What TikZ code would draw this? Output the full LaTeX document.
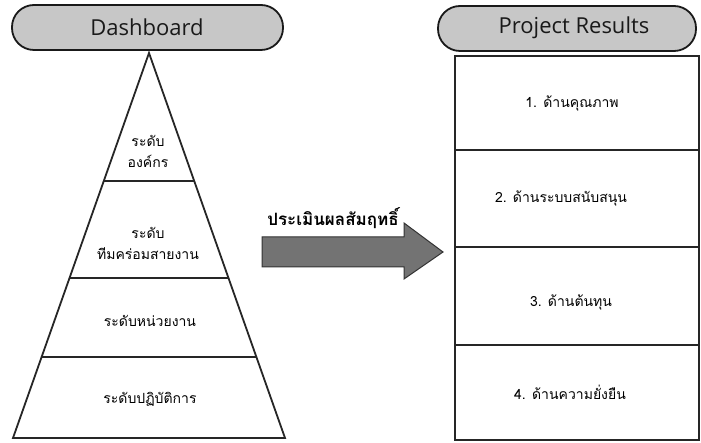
\documentclass[tikz,border=0pt]{standalone}
\usepackage{fontspec}
\setmainfont{Open Sans}
\newfontfamily\thaifont[Script=Thai]{Loma}
\usetikzlibrary{calc}
\begin{document}
\begin{tikzpicture}[x=1pt,y=-1pt,
  pill/.style={draw=black!90,line width=1.8pt,fill=black!22,rounded corners=22pt},
  head/.style={font=\fontsize{22}{24}\selectfont,text=black!90},
  thai/.style={font=\thaifont\fontsize{14}{21}\selectfont,align=center,text=black},
  frame/.style={draw=black!85,line width=1.8pt},
  cell/.style={draw=black!85,line width=1.3pt}]
\useasboundingbox[fill=white] (0,0) rectangle (701,443);
% headers
\draw[pill] (12,5) rectangle (283,50);
\node[head] (dash) at (147,27) {Dashboard};
\draw[pill] (438,6) rectangle (696,51);
\node[head] (proj) at (574,28) {Project Results};
% pyramid
\coordinate (apex) at (149,53);
\coordinate (bl) at (13,438);
\coordinate (br) at (285,438);
\draw[frame,line join=miter] (apex) -- (bl) -- (br) -- cycle;
\draw[frame] ($(apex)!0.3325!(bl)$) -- ($(apex)!0.3325!(br)$);
\draw[frame] ($(apex)!0.5844!(bl)$) -- ($(apex)!0.5844!(br)$);
\draw[frame] ($(apex)!0.7896!(bl)$) -- ($(apex)!0.7896!(br)$);
\node[thai] (l1) at (148,151) {ระดับ\\องค์กร};
\node[thai] (l2) at (148,243) {ระดับ\\ทีมคร่อมสายงาน};
\node[thai] (l3) at (150,321) {ระดับหน่วยงาน};
\node[thai] (l4) at (150,399) {ระดับปฏิบัติการ};
% arrow
\node[thai,font=\thaifont\bfseries\fontsize{17}{19}\selectfont] (eval) at (333,218) {ประเมินผลสัมฤทธิ์};
\coordinate (a1) at (262,237);
\coordinate (a2) at (404,237);
\coordinate (a3) at (404,223);
\coordinate (tip) at (443,252);
\coordinate (a5) at (404,279);
\coordinate (a6) at (404,267);
\coordinate (a7) at (262,267);
\filldraw[fill=black!55,draw=black!80,line width=1pt,line join=miter] (a1) -- (a2) -- (a3) -- (tip) -- (a5) -- (a6) -- (a7) -- cycle;
% result boxes
\draw[cell] (455,56) rectangle (699,440);
\draw[cell] (455,150) -- (699,150);
\draw[cell] (455,247) -- (699,247);
\draw[cell] (455,345) -- (699,345);
\node[thai] (r1) at (572,103) {1. ด้านคุณภาพ};
\node[thai] (r2) at (561,198) {2. ด้านระบบสนับสนุน};
\node[thai] (r3) at (571,302) {3. ด้านต้นทุน};
\node[thai] (r4) at (570,392) {4. ด้านความยั่งยืน};
\end{tikzpicture}
\end{document}
